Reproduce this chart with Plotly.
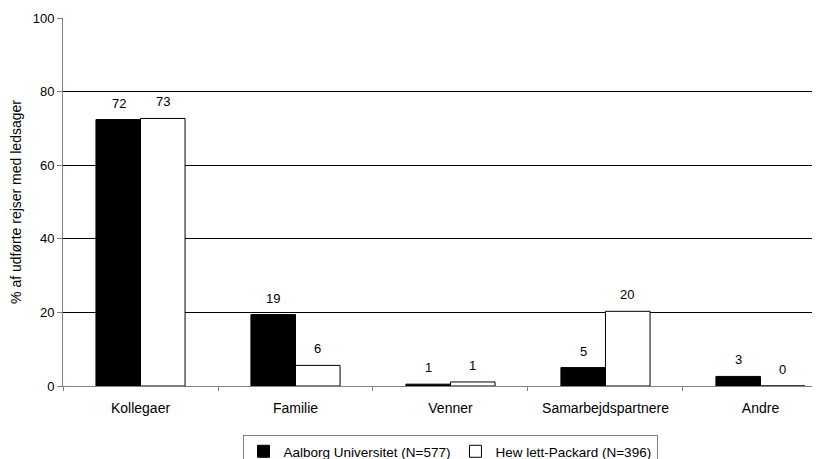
import plotly.graph_objects as go

categories = ["Kollegaer", "Familie", "Venner", "Samarbejdspartnere", "Andre"]
aau_values = [72.4, 19.4, 0.5, 5.0, 2.6]
hp_values = [72.7, 5.6, 1.1, 20.3, 0.0]
aau_labels = ["72", "19", "1", "5", "3"]
hp_labels = ["73", "6", "1", "20", "0"]
series_names = ["Aalborg Universitet (N=577)", "Hew lett-Packard (N=396)"]
y_ticks = [0, 20, 40, 60, 80, 100]
y_title = "% af udførte rejser med ledsager"

FONT = "Liberation Sans, Arial, sans-serif"
FS_NUM = 13
FS_TXT = 14
# the page body has an 8px default margin; size the figure so it fills the 820x459 view
W, H = 812, 451

fig = go.Figure()
fig.add_trace(go.Bar(
    x=categories, y=aau_values, name=series_names[0],
    marker=dict(color="black", line=dict(color="black", width=1)),
))
fig.add_trace(go.Bar(
    x=categories, y=hp_values, name=series_names[1],
    marker=dict(color="white", line=dict(color="black", width=1)),
))

annotations = []
for cat, v, lab in zip(categories, aau_values, aau_labels):
    annotations.append(dict(x=cat, y=v, text=lab, showarrow=False, xshift=-22,
                            yanchor="bottom", yshift=7, font=dict(size=FS_NUM, color="black", family=FONT)))
for cat, v, lab in zip(categories, hp_values, hp_labels):
    annotations.append(dict(x=cat, y=v, text=lab, showarrow=False, xshift=22,
                            yanchor="bottom", yshift=7, font=dict(size=FS_NUM, color="black", family=FONT)))

fig.update_layout(
    width=W, height=H,
    margin=dict(l=55, r=0, t=10, b=73, autoexpand=False),
    paper_bgcolor="white", plot_bgcolor="white",
    font=dict(family=FONT, size=FS_NUM, color="black"),
    barmode="group", bargap=0.425, bargroupgap=0,
    annotations=annotations,
    showlegend=True,
    legend=dict(orientation="h", xref="container", x=442 / W, xanchor="center",
                yref="container", y=1 - 427 / H, yanchor="top",
                bordercolor="#808080", borderwidth=1, bgcolor="white",
                font=dict(size=13.5, family=FONT, color="black"),
                itemwidth=30, tracegroupgap=0),
)
fig.update_xaxes(
    type="category", range=[-0.5, 4.384], automargin=False,
    showline=True, linecolor="#808080", linewidth=1,
    ticks="outside", tickson="boundaries", ticklen=4, tickcolor="#808080",
    showgrid=False, ticklabelstandoff=9,
    tickfont=dict(size=FS_TXT, family=FONT, color="black"),
)
fig.update_yaxes(
    range=[0, 100], tickvals=y_ticks, automargin=False,
    showline=True, linecolor="#808080", linewidth=1,
    ticks="outside", ticklen=5, tickcolor="#808080",
    showgrid=True, gridcolor="black", gridwidth=1, zeroline=False,
    tickfont=dict(size=FS_NUM, family=FONT, color="black"),
    title=dict(text=y_title, font=dict(size=FS_TXT, family=FONT, color="black"), standoff=8),
)

fig.write_html("out.html")
